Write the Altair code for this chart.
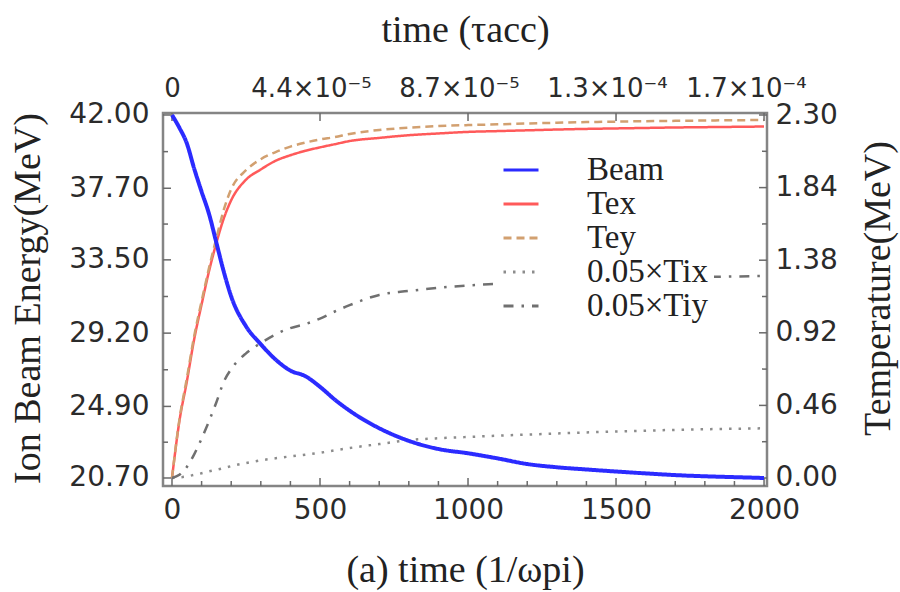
import altair as alt
import pandas as pd

# time in units of 1/omega_pi
time = [0, 25, 50, 75, 100, 125, 150, 175, 200, 250, 300, 350, 400, 450, 500,
        550, 600, 700, 800, 900, 1000, 1100, 1200, 1300, 1400, 1500, 1600,
        1700, 1800, 1900, 2000]

# ion beam energy (MeV), left axis
beam = [42.00, 41.25, 40.34, 38.85, 37.50, 36.20, 34.50, 32.80, 31.35, 29.60,
        28.55, 27.65, 27.00, 26.68, 26.05, 25.30, 24.65, 23.62, 22.88, 22.40,
        22.15, 21.85, 21.52, 21.33, 21.20, 21.08, 20.97, 20.87, 20.80, 20.75,
        20.70]

# temperatures (MeV), right axis
tex = [0.00, 0.36, 0.61, 0.88, 1.10, 1.31, 1.49, 1.645, 1.76, 1.89, 1.955,
       2.01, 2.045, 2.073, 2.095, 2.115, 2.135, 2.155, 2.172, 2.183, 2.193,
       2.198, 2.203, 2.208, 2.212, 2.215, 2.218, 2.221, 2.223, 2.225, 2.227]
tey = [0.00, 0.37, 0.63, 0.90, 1.12, 1.33, 1.52, 1.70, 1.83, 1.95, 2.02,
       2.065, 2.10, 2.125, 2.145, 2.16, 2.18, 2.205, 2.22, 2.23, 2.236,
       2.241, 2.246, 2.251, 2.255, 2.258, 2.261, 2.263, 2.265, 2.267, 2.268]
tix_scaled = [0.0, 0.004, 0.01, 0.02, 0.03, 0.042, 0.052, 0.063, 0.075, 0.095,
              0.112, 0.125, 0.137, 0.148, 0.16, 0.175, 0.19, 0.215, 0.24,
              0.252, 0.26, 0.268, 0.275, 0.282, 0.289, 0.295, 0.30, 0.305,
              0.309, 0.312, 0.315]
tiy_scaled = [0.0, 0.02, 0.07, 0.15, 0.25, 0.36, 0.48, 0.61, 0.69, 0.79,
              0.855, 0.91, 0.95, 0.975, 1.01, 1.055, 1.095, 1.16, 1.185,
              1.205, 1.22, 1.23, 1.24, 1.25, 1.257, 1.262, 1.267, 1.271,
              1.274, 1.277, 1.28]

series_names = ["Beam", "Tex", "Tey", "0.05×Tix", "0.05×Tiy"]
series_colors = ["#2b2bff", "#ff5a5a", "#d2a070", "#8c8c8c", "#707070"]
series_dashes = [[1, 0], [1, 0], [8, 5], [2.5, 7], [10, 8, 2.5, 8]]

# axis ticks and labels
time_major = [0, 500, 1000, 1500, 2000]
time_minor = [100, 200, 300, 400, 600, 700, 800, 900, 1100, 1200, 1300, 1400,
              1600, 1700, 1800, 1900]
tacc_labels = ["0", "4.4×10⁻⁵", "8.7×10⁻⁵", "1.3×10⁻⁴", "1.7×10⁻⁴"]
energy_major = [20.7, 24.9, 29.2, 33.5, 37.7, 42.0]
energy_minor = [22.8, 27.05, 31.35, 35.6, 39.85]
temp_major = [0.0, 0.46, 0.92, 1.38, 1.84, 2.30]
temp_minor = [0.23, 0.69, 1.15, 1.61, 2.07]

W, H = 604, 373
TICK_COLOR = "#6a6a6a"
LABEL_FONT = "DejaVu Sans"
SERIF = "Liberation Serif"

beam_df = pd.DataFrame({"t": time, "v": beam, "series": "Beam"})
temp_df = pd.concat([
    pd.DataFrame({"t": time, "v": tex, "series": "Tex"}),
    pd.DataFrame({"t": time, "v": tey, "series": "Tey"}),
    pd.DataFrame({"t": time, "v": tix_scaled, "series": "0.05×Tix"}),
    pd.DataFrame({"t": time, "v": tiy_scaled, "series": "0.05×Tiy"}),
], ignore_index=True)

x_scale = alt.Scale(domain=[-30.4, 2010.0], nice=False, zero=False)
e_scale = alt.Scale(domain=[20.23, 42.117], nice=False, zero=False)
t_scale = alt.Scale(domain=[-0.0507, 2.3127], nice=False, zero=False)

axis_common = dict(
    ticks=False, domain=False, grid=False,
    labelFont=LABEL_FONT, labelColor="#2b2b2b",
    titleFont=SERIF, titleFontSize=38, titleFontWeight="normal",
    titleColor="#222222",
)

bottom_axis = alt.Axis(
    orient="bottom", values=time_major, format="d", labelPadding=10,
    labelFontSize=28,
    title="(a) time (1/ωpi)", titleX=W / 2, titleY=84,
    titleBaseline="middle", titleAlign="center", **axis_common)

label_expr = "".join(
    f"datum.value == {v} ? '{s}' : " for v, s in zip(time_major, tacc_labels)
) + "''"
top_axis = alt.Axis(
    orient="top", values=time_major, labelExpr=label_expr, labelPadding=12,
    labelFontSize=26,
    labelOffset={"expr": "datum.value == 2000 ? -18 : datum.value == 0 ? 0 : -9"},
    title="time (τacc)", titleX=W / 2, titleY=-83,
    titleBaseline="middle", titleAlign="center", **axis_common)

left_axis = alt.Axis(
    orient="left", values=energy_major, format=".2f", labelPadding=14,
    labelFontSize=28,
    title="Ion Beam Energy(MeV)", titleAngle=270, titleX=-135, titleY=185,
    titleBaseline="middle", titleAlign="center", **axis_common)

right_axis = alt.Axis(
    orient="right", values=temp_major, format=".2f", labelPadding=8,
    labelFontSize=28,
    title="Temperature(MeV)", titleAngle=270, titleX=111, titleY=175,
    titleBaseline="middle", titleAlign="center", **axis_common)

legend = alt.Legend(
    title=None, orient="none", legendX=334, legendY=35,
    fillColor="white", padding=5, symbolType="stroke", symbolSize=1225,
    symbolStrokeWidth=3, labelFont=SERIF, labelFontSize=33,
    labelColor="#222222", labelOffset=47, clipHeight=34, rowPadding=0,
    labelLimit=400,
)
color_enc = alt.Color("series:N", legend=legend,
                      scale=alt.Scale(domain=series_names, range=series_colors))
dash_enc = alt.StrokeDash("series:N", legend=legend,
                          scale=alt.Scale(domain=series_names, range=series_dashes))


def x_enc(axis):
    return alt.X("t:Q", scale=x_scale, axis=axis)


def side_ticks(values, scale, axis, x0, x1):
    df = pd.DataFrame({"v": values})
    return alt.Chart(df).mark_rule(color=TICK_COLOR, strokeWidth=1.5).encode(
        y=alt.Y("v:Q", scale=scale, axis=axis),
        x=alt.value(x0), x2=alt.value(x1))


def time_ticks(values, axis, y0, y1):
    df = pd.DataFrame({"t": values})
    return alt.Chart(df).mark_rule(color=TICK_COLOR, strokeWidth=1.5).encode(
        x=x_enc(axis), y=alt.value(y0), y2=alt.value(y1))


# temperatures on the right-hand scale, with the top (tau_acc) time axis
temp_lines = alt.Chart(temp_df).mark_line(
    strokeWidth=2.5, interpolate="monotone"
).encode(
    x=x_enc(top_axis),
    y=alt.Y("v:Q", scale=t_scale, axis=right_axis),
    color=color_enc, strokeDash=dash_enc, detail="series:N",
)
right_layer = alt.layer(
    temp_lines,
    side_ticks(temp_major, t_scale, right_axis, W, W - 8),
    side_ticks(temp_minor, t_scale, right_axis, W, W - 5),
    time_ticks(time_major, top_axis, H, H - 8),
    time_ticks(time_minor, top_axis, H, H - 5),
    time_ticks(time_major, top_axis, 0, 8),
)

# beam energy on the left-hand scale, with the bottom time axis
beam_line = alt.Chart(beam_df).mark_line(
    strokeWidth=4, interpolate="monotone"
).encode(
    x=x_enc(bottom_axis),
    y=alt.Y("v:Q", scale=e_scale, axis=left_axis),
    color=color_enc, strokeDash=dash_enc,
)
left_layer = alt.layer(
    beam_line,
    side_ticks(energy_major, e_scale, left_axis, 0, 8),
    side_ticks(energy_minor, e_scale, left_axis, 0, 5),
)

chart = alt.layer(right_layer, left_layer).resolve_scale(
    y="independent"
).resolve_axis(
    x="independent", y="independent"
).properties(
    width=W, height=H,
    padding={"left": 163, "top": 113, "right": 133, "bottom": 106},
    autosize=alt.AutoSizeParams(type="none"),
    background="white",
).configure_view(
    stroke="#858585", strokeWidth=2.5
)

chart.save("out.html", embed_options={"renderer": "svg", "actions": False})
